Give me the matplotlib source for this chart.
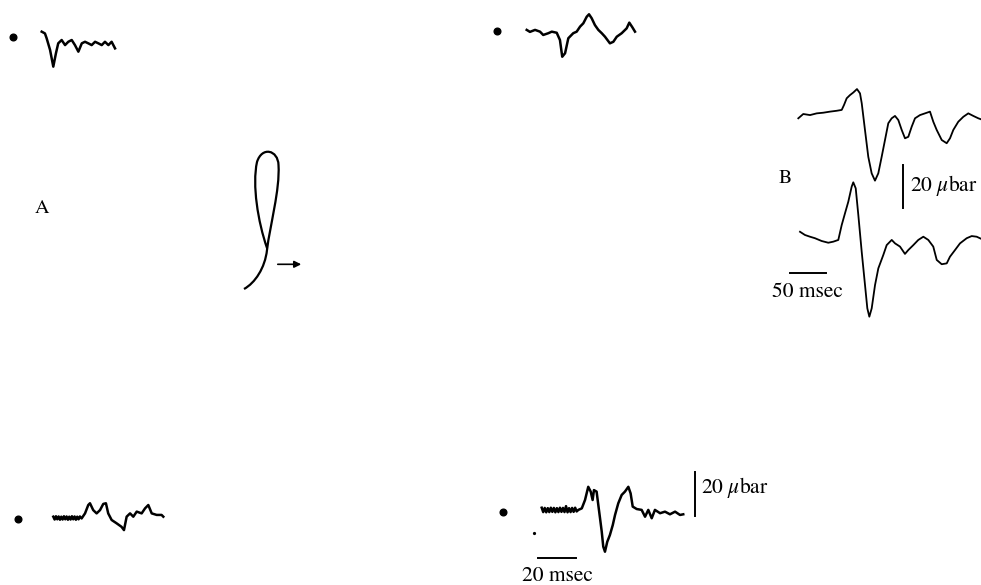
import matplotlib.pyplot as plt
from matplotlib.path import Path
from matplotlib.patches import PathPatch
from matplotlib.transforms import Affine2D

plt.rcParams["font.family"] = ["STIXGeneral", "DejaVu Serif"]
plt.rcParams["mathtext.fontset"] = "stix"

# Panel A traces: time (msec) and pressure (ubar)
a1_t = [0, 1.7, 2.6, 4.4, 6.1, 7.5, 8.7, 10.5, 12.3, 14.0, 15.8, 17.5, 19.3, 21.1, 22.8,
        24.5, 26.3, 28.1, 29.8, 31.6, 33.3, 35.1, 36.8, 38.6]
a1_p = [4.7, 3.9, 1.7, -3.6, -11.2, -5.1, -0.6, 0.9, -1.4, 0.1, 0.9, -1.4, -4.4, -0.6, 0.1,
        -0.6, -1.4, 0.1, -0.6, -1.4, 0.1, -1.4, 0.1, -2.9]

a2_t = [0, 1.7, 4.4, 7.0, 8.7, 11.4, 13.2, 15.8, 17.5, 18.7, 20.2, 21.9, 24.5, 26.3, 28.1,
        29.8, 31.6, 32.8, 34.2, 35.9, 37.7, 39.5, 41.2, 43.8, 45.6, 47.4, 50.0, 52.6, 54.0,
        55.6, 57.0]
a2_p = [0.5, -0.4, 0.5, -0.3, -1.8, -1.0, -0.3, -0.8, -4.1, -11.7, -10.1, -3.3, -1.0, -0.3, 2.0,
        3.5, 6.5, 7.6, 5.8, 2.7, 0.5, -1.0, -2.6, -5.6, -4.9, -2.6, -1.0, 1.2, 3.8,
        1.7, -0.3]

a3_t = [0, 0.7, 1.4, 2.1, 2.8, 3.5, 4.2, 4.9, 5.6, 6.3, 7.0, 7.7, 8.4, 9.1, 9.8, 10.5, 11.2,
        11.9, 12.6, 13.3, 14.0, 14.9, 16.7, 18.4, 19.3, 21.0, 22.8, 24.6, 26.3, 27.7, 28.9,
        30.7, 33.3, 35.9, 37.2, 38.6, 40.4, 42.1, 43.9, 46.5, 48.3, 50.0, 51.8, 54.4, 57.0,
        57.9]
a3_p = [0.6, -0.7, 0.8, -0.6, 0.7, -0.8, 0.6, -0.7, 0.8, -0.6, 0.7, -0.8, 0.6, -0.7, 0.8,
        -0.6, 0.7, -0.8, 0.6, -0.6, 0.7, -0.2, 2.1, 5.9, 6.7, 3.6, 2.1, 3.6, 6.4, 6.7, 2.1,
        -0.9, -2.4, -4.0, -5.5, 0.6, 2.1, 0.6, 2.9, 2.1, 4.4, 5.9, 2.1, 1.4, 1.4,
        0.6]

a4_t = [0, 0.8, 1.6, 2.4, 3.2, 4.0, 4.8, 5.6, 6.4, 7.2, 8.0, 8.8, 9.6, 10.4, 11.2, 12.0,
        12.8, 13.6, 14.4, 15.2, 16.0, 16.8, 17.6, 18.4, 19.3, 21.1, 22.8, 24.5, 25.8, 26.8,
        27.5, 28.9, 29.8, 30.7, 31.6, 32.4, 33.3, 34.5, 35.9, 37.4, 38.6, 40.3, 42.1, 43.8,
        45.6, 46.8, 47.9, 50.0, 52.6, 54.4, 56.1, 57.9, 59.6, 62.3, 64.9, 67.5, 70.2, 72.8,
        74.5]
a4_p = [1.5, -0.5, 1.4, -0.6, 1.3, -0.5, 1.5, -0.4, 1.4, -0.6, 1.3, -0.5, 1.5, -0.4, 1.4,
        -0.5, 2.2, -0.6, 1.3, -0.5, 1.4, -0.4, 1.5, -0.2, 0.5, 1.2, 5.0, 11.0, 8.8, 5.0,
        9.5, 8.8, 2.7, -3.3, -9.4, -16.2, -18.5, -14.0, -10.9, -6.4, -1.8, 3.5, 7.3, 8.8,
        11.0, 8.0, 2.0, 0.9, 0.5, -2.6, 0.5, -3.3, 0.5, -1.0, -0.3, -1.5, -0.3, -1.8,
        -1.5]

# Panel B traces
b1_t = [0, 6.9, 16.3, 25.6, 34.7, 44.0, 53.3, 60.3, 63.5, 67.2, 71.8, 76.4, 81.5, 85.7,
        88.1, 92.6, 97.2, 101.9, 106.5, 111.1, 115.8, 120.4, 125.0, 129.7, 134.3, 138.9,
        143.6, 148.2, 152.8, 157.5, 162.1, 169.0, 176.0, 182.9, 187.5, 192.2, 199.2, 206.1,
        210.7, 215.3, 222.2, 229.2, 236.1, 243.1, 250.0, 256.5]
b1_p = [-2.0, 0, -0.5, 0.3, 0.6, 1.1, 1.5, 1.9, 4.2, 7.3, 8.8, 10.0, 11.6, 9.6,
        5.0, -7.4, -19.9, -27.6, -31.0, -27.6, -19.9, -12.1, -4.3, -2.0, -0.9, -2.8,
        -7.4, -11.3, -10.6, -5.9, -2.0, -0.5, 0.3, 1.1, -3.6, -7.4, -12.1, -13.6,
        -11.3, -7.4, -3.6, -1.3, 0.3, -0.9, -2.0, -2.8]

b2_t = [0, 6.9, 13.9, 20.8, 30.1, 39.3, 46.3, 53.2, 57.9, 62.5, 67.1, 71.8, 74.0, 77.4,
        81.0, 85.7, 90.3, 93.5, 96.3, 99.6, 104.2, 108.8, 115.7, 120.4, 127.4, 132.0, 138.9,
        145.8, 150.4, 157.4, 164.3, 171.3, 178.2, 185.1, 189.9, 196.8, 203.8, 208.3, 215.3,
        222.2, 231.5, 238.5, 245.4, 252.4]
b2_p = [2.9, 1.4, 0.6, -0.1, -1.4, -2.2, -1.7, -0.9, 6.0, 11.5, 16.9, 23.9, 25.9, 23.1,
        10.7, -6.4, -21.9, -32.7, -36.6, -32.7, -21.9, -14.1, -7.9, -3.3, -0.9, -2.5, -4.0,
        -7.4, -5.6, -3.3, -0.9, 0.6, -0.9, -4.0, -10.2, -12.2, -11.8, -8.7, -5.6,
        -2.5, -0.1, 0.9, 0.6, -0.5]

# stimulus path sketch (cubic Bezier vertices)
loop_x = [244, 255, 265, 267, 270, 280, 278.5, 278, 262, 257, 252, 258, 267]
loop_y = [289, 283, 268, 250, 225, 190, 165, 150, 146, 162, 185, 222, 248]

fig = plt.figure(figsize=(9.81, 5.85), dpi=100)
ax = fig.add_axes([0, 0, 1, 1])
ax.set_xlim(0, 981)
ax.set_ylim(585, 0)
ax.axis("off")

# pixels per msec / per ubar
A_SX, A_SY = 1.9, 2.2
B_SX, B_SY = 0.72, 2.15


def trace(t, p, x0, y0, sx, sy, lw):
    tr = Affine2D().scale(sx, -sy).translate(x0, y0) + ax.transData
    ax.plot(t, p, color="black", lw=lw, transform=tr, solid_joinstyle="round")


trace(a1_t, a1_p, 41.7, 42, A_SX, A_SY, 1.8)
trace(a2_t, a2_p, 526.7, 31, A_SX, A_SY, 1.8)
trace(a3_t, a3_p, 53.3, 518, A_SX, A_SY, 1.8)
trace(a4_t, a4_p, 541.7, 511, A_SX, A_SY, 1.8)
trace(b1_t, b1_p, 798.3, 114, B_SX, B_SY, 1.3)
trace(b2_t, b2_p, 800, 238, B_SX, B_SY, 1.3)

# electrode position dots
ax.plot([12.7, 497, 18.3, 503.3], [37, 31, 519, 511.7], "o", color="black", ms=4.8)
ax.plot([534.3], [532.7], "o", color="black", ms=1.3)

# path sketch with direction arrow
codes = [Path.MOVETO] + [Path.CURVE4] * (len(loop_x) - 1)
ax.add_patch(PathPatch(Path(list(zip(loop_x, loop_y)), codes),
                       fill=False, lw=1.6, ec="black"))
ax.annotate("", xy=(304, 264.3), xytext=(275, 264.3),
            arrowprops=dict(arrowstyle="-|>", color="black", lw=1.2,
                            mutation_scale=10))

# scale bars
ax.plot([538.3, 538.3 + 20 * A_SX], [558.3, 558.3], color="black", lw=1.4)
ax.plot([695, 695], [472, 472 + 20 * A_SY], color="black", lw=1.4)
ax.plot([790, 790 + 50 * B_SX], [272.7, 272.7], color="black", lw=1.4)
ax.plot([903.3, 903.3], [165, 165 + 20 * B_SY], color="black", lw=1.4)

ax.text(557.5, 576, "20 msec", ha="center", va="center", fontsize=15.5)
ax.text(701, 488, r"20 $\mu$bar", ha="left", va="center", fontsize=15.5)
ax.text(807.5, 292, "50 msec", ha="center", va="center", fontsize=15.5)
ax.text(910, 186, r"20 $\mu$bar", ha="left", va="center", fontsize=15.5)
ax.text(42, 208, "A", ha="center", va="center", fontsize=14.5)
ax.text(785, 178, "B", ha="center", va="center", fontsize=14)

fig.savefig("out.png", dpi=100, facecolor="white")
